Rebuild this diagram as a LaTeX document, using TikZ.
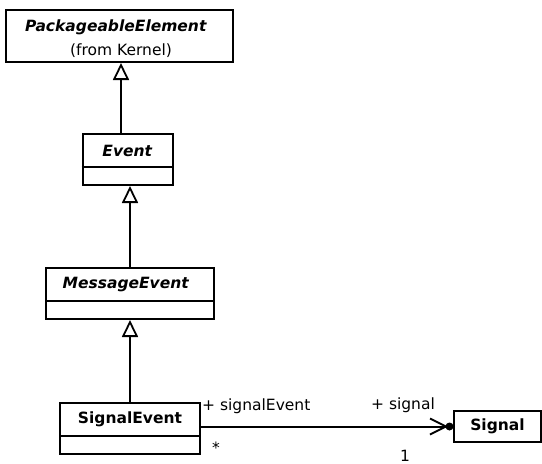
\documentclass[tikz,border=0pt]{standalone}
\usepackage{fontspec}
\setmainfont{DejaVu Sans}
\usetikzlibrary{arrows.meta}
\begin{document}
\begin{tikzpicture}[x=1pt,y=-1pt,
  every node/.style={font=\fontsize{15.5}{18}\selectfont},
  box/.style={draw,line width=2pt,inner sep=0pt,fill=white},
  gen/.style={line width=2pt,-{Triangle[open,length=17pt,width=16pt,fill=white,line width=1.8pt]}},
  lbl/.style={inner sep=0pt}]
\useasboundingbox (0,0) rectangle (542,464);
% boxes
\node[box,minimum width=227pt,minimum height=52pt] (pe) at (119.5,36) {};
\node[lbl] at (116,27) {\textbf{\textit{PackageableElement}}};
\node[lbl] at (121,51) {(from Kernel)};

\node[box,minimum width=90pt,minimum height=51pt] (ev) at (127.5,159.5) {};
\draw[line width=2pt] (ev.west |- 0,167) -- (ev.east |- 0,167);
\node[lbl] at (127.5,151) {\textbf{\textit{Event}}};

\node[box,minimum width=168pt,minimum height=51pt] (me) at (130,293.5) {};
\draw[line width=2pt] (me.west |- 0,301) -- (me.east |- 0,301);
\node[lbl] at (126,285) {\textbf{\textit{MessageEvent}}};

\node[box,minimum width=140pt,minimum height=51pt] (se) at (130,428.5) {};
\draw[line width=2pt] (se.west |- 0,436) -- (se.east |- 0,436);
\node[lbl] at (130,419.5) {\textbf{SignalEvent}};

\node[box,minimum width=87pt,minimum height=31pt] (sig) at (497.5,426.5) {\textbf{Signal}};

% generalizations
\draw[gen] (ev.north -| 121,0) -- (pe.south -| 121,0);
\draw[gen] (me.north -| 130,0) -- (ev.south -| 130,0);
\draw[gen] (se.north -| 130,0) -- (me.south -| 130,0);

% association
\draw[line width=2pt] (se.east |- sig.west) -- (sig.west);
\fill (sig.west) ++(-3.5,0) circle (4);
\draw[line width=2pt] (sig.west) ++(-23,-8) -- ++(16,8) -- ++(-16,8);

\node[lbl,anchor=west] at (202,406) {+ signalEvent};
\node[lbl] at (403,405) {+ signal};
\node[lbl] at (216,448) {*};
\node[lbl] at (405,456) {1};
\end{tikzpicture}
\end{document}
